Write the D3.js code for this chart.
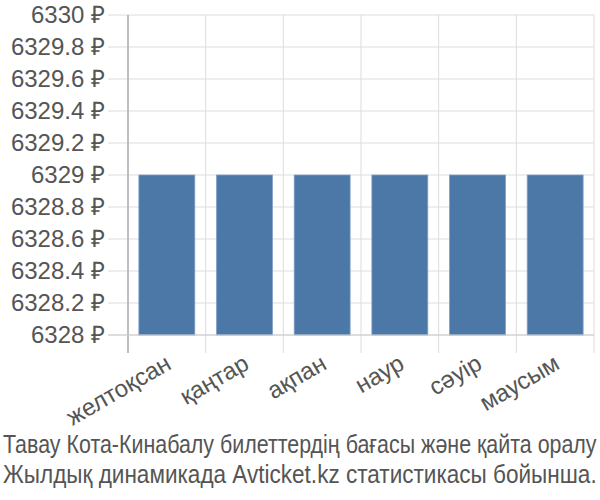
<!DOCTYPE html>
<html><head><meta charset="utf-8">
<script src="https://cdn.jsdelivr.net/npm/d3@7"></script>
<style>body{margin:0;background:#fff}svg{display:block}</style>
</head><body>
<svg id="c" width="600" height="500"></svg>
<script>
const categories = ["желтоқсан","қаңтар","ақпан","наур","сәуір","маусым"];
const values = [6329, 6329, 6329, 6329, 6329, 6329];
const yTicks = [6328, 6328.2, 6328.4, 6328.6, 6328.8, 6329, 6329.2, 6329.4, 6329.6, 6329.8, 6330];
const titleLines = ["Тавау Кота-Кинабалу билеттердің бағасы және қайта оралу", "Жылдық динамикада Avticket.kz статистикасы бойынша."];

const svg = d3.select("#c");
const L = 128, R = 594, T = 15, B = 335;
const x = d3.scaleBand().domain(categories).range([L, R]).paddingInner(0.28).paddingOuter(0.14);
const xg = d3.scaleBand().domain(categories).range([L, R]);
const y = d3.scaleLinear().domain([6328, 6330]).range([B, T]);
const font = "'Liberation Sans', Arial, sans-serif";

// horizontal grid
svg.append("g").selectAll("line").data(yTicks).join("line")
  .attr("x1", L - 20).attr("x2", R).attr("y1", d => y(d)).attr("y2", d => y(d))
  .attr("stroke", "#ddd").attr("stroke-width", 1);
// vertical grid
const vx = categories.map(c => xg(c)).concat([R]);
svg.append("g").selectAll("line").data(vx.slice(1)).join("line")
  .attr("x1", d => d).attr("x2", d => d).attr("y1", T).attr("y2", B + 18)
  .attr("stroke", "#ddd").attr("stroke-width", 1);
// y axis line
svg.append("line").attr("x1", L).attr("x2", L).attr("y1", T).attr("y2", B + 18)
  .attr("stroke", "#aaa").attr("stroke-width", 1.5);

// bars
svg.append("g").selectAll("rect").data(values).join("rect")
  .attr("x", (d, i) => x(categories[i])).attr("width", x.bandwidth())
  .attr("y", d => y(d)).attr("height", d => B - y(d))
  .attr("fill", "#4c78a8").attr("stroke", "#7fa0c6").attr("stroke-width", 0.8);

// bottom baseline
svg.append("line").attr("x1", L - 20).attr("x2", R).attr("y1", B).attr("y2", B)
  .attr("stroke", "#ccc").attr("stroke-width", 1);

// y labels
svg.append("g").selectAll("text").data(yTicks).join("text")
  .attr("x", 105).attr("y", d => y(d)).attr("dy", "0.35em")
  .attr("text-anchor", "end").attr("font-family", font).attr("font-size", 24)
  .attr("fill", "#555").text(d => d3.format("")(+d.toFixed(1)) + " ₽");

// x labels
svg.append("g").selectAll("text").data(categories).join("text")
  .attr("text-anchor", "end").attr("font-family", font).attr("font-size", 24).attr("fill", "#555")
  .attr("transform", c => `translate(${xg(c) + xg.bandwidth()/2 + 6},${B + 33}) rotate(-30)`)
  .text(c => c);

// title (horizontally condensed to fit the width)
svg.append("g").selectAll("text").data(titleLines).join("text")
  .attr("x", 0).attr("y", 0).attr("text-anchor", "start")
  .attr("font-family", font).attr("font-size", 25).attr("fill", "#555").text(d => d)
  .each(function(d, i) {
    const w = this.getComputedTextLength();
    const sx = 594 / w;
    d3.select(this).attr("transform", `translate(3,${453 + i * 30}) scale(${sx},1)`);
  });
</script>
</body></html>
